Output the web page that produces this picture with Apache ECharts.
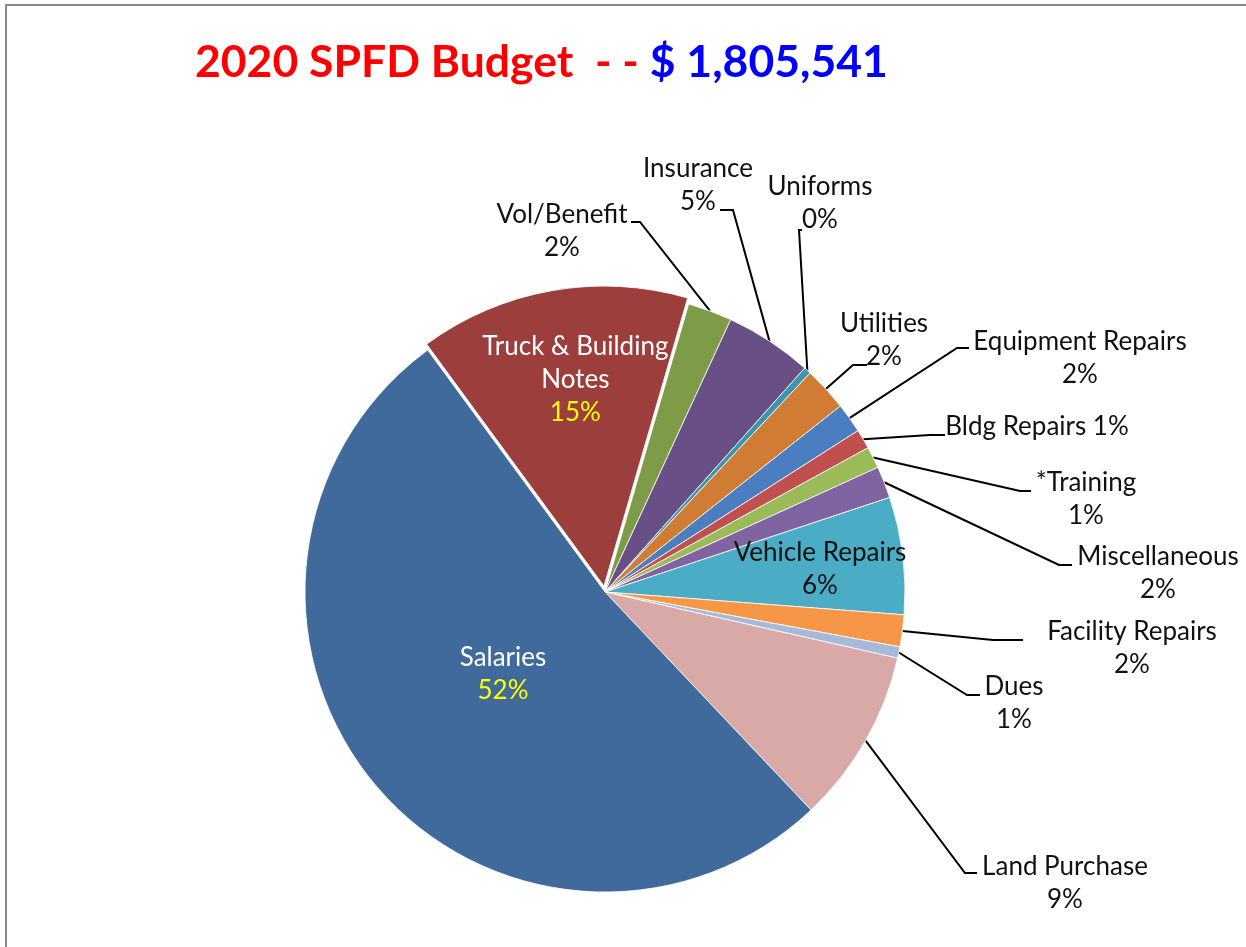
<!DOCTYPE html>
<html>
<head>
<meta charset="utf-8">
<script src="https://cdn.jsdelivr.net/npm/echarts@6/dist/echarts.min.js"></script>
<style>
  html, body { margin: 0; padding: 0; background: #fff; }
  .frame {
    position: absolute; left: 5px; top: 4px; width: 1300px; height: 1000px;
    border-left: 2px solid #8a8a8a; border-top: 2px solid #8a8a8a;
  }
  #chart { position: absolute; left: 0; top: 0; width: 1246px; height: 947px; }
</style>
</head>
<body>
<div class="frame"></div>
<div id="chart"></div>
<script>
// budget lines, clockwise from the Vol/Benefit slice
var categories = [
  "Vol/Benefit", "Insurance", "Uniforms", "Utilities", "Equipment Repairs",
  "Bldg Repairs", "*Training", "Miscellaneous", "Vehicle Repairs",
  "Facility Repairs", "Dues", "Land Purchase", "Salaries", "Truck & Building Notes"
];
var amounts = [
  43000, 85000, 7000, 43000, 29000,
  19000, 21000, 31000, 114000,
  31000, 11000, 170000, 938541, 263000
];

var colors = [
  "#7E9B48", "#684F86", "#3A95AD", "#D07C35", "#4A7EC1",
  "#C0504D", "#9BBB59", "#8064A2", "#4BACC6",
  "#F79646", "#A7B9D9", "#D9A9A8", "#3F6A9B", "#9B3E3C"
];

// label centre x, y; leader attach offset dx, dy; stub length
var labelSpots = {
  "Vol/Benefit": [562, 231, 69, -9, 9],
  "Insurance": [698, 185, 22, 25, 13],
  "Uniforms": [820, 203, -18, 27, 3],
  "Utilities": [884, 340, -17, 25, 14],
  "Equipment Repairs": [1080, 358, -111, -10, 12],
  "Bldg Repairs": [1037, 427, -92, 8, 15],
  "*Training": [1086, 499, -55, -8, 11],
  "Miscellaneous": [1158, 573, -86, -8, 13],
  "Facility Repairs": [1132, 648, -109, -8, 30],
  "Dues": [1014, 703, -34, -8, 13],
  "Land Purchase": [1065, 883, -88, -10, 12],
  "Salaries": [503, 674],
  "Vehicle Repairs": [820, 569]
};
var insideWhite = ["Salaries", "Truck & Building Notes"];
var insideDark = ["Vehicle Repairs"];
var oneLine = ["Bldg Repairs"];
var exploded = "Truck & Building Notes";

var total = amounts.reduce(function (a, b) { return a + b; }, 0);

var pieData = categories.map(function (name, i) {
  var item = { name: name, value: amounts[i], itemStyle: { color: colors[i] } };
  if (insideWhite.indexOf(name) >= 0 || insideDark.indexOf(name) >= 0) {
    item.label = { position: "inside" };
    item.labelLine = { show: false };
  }
  if (name === exploded) {
    item.selected = true;
    // exploded slice keeps its own inside label spot, lift it toward the rim
    item.label.padding = [0, 4, 112, 0];
  }
  return item;
});

var myChart = echarts.init(document.getElementById("chart"));
myChart.setOption({
  animation: false,
  title: {
    text: "{r|2020 SPFD Budget  - - }{b|$ " + total.toLocaleString("en-US") + "}",
    left: 190,
    top: 33,
    textStyle: {
      rich: {
        r: { color: "#FF0000", fontFamily: "Lato", fontWeight: "bold", fontSize: 44.5, lineHeight: 50 },
        b: { color: "#0000FF", fontFamily: "Lato", fontWeight: "bold", fontSize: 44.5, lineHeight: 50 }
      }
    }
  },
  series: [
    {
      type: "pie",
      center: [605, 592],
      radius: 300,
      startAngle: 73.8,
      clockwise: true,
      avoidLabelOverlap: false,
      selectedMode: "multiple",
      selectedOffset: 6,
      itemStyle: { borderColor: "#fff", borderWidth: 0.8 },
      emphasis: { disabled: true },
      label: {
        show: true,
        position: "outside",
        fontFamily: "Lato",
        fontSize: 26,
        lineHeight: 33,
        color: "#111",
        formatter: function (p) {
          var pct = Math.round(p.percent) + "%";
          if (insideWhite.indexOf(p.name) >= 0) {
            var n = p.name.replace(" Notes", "\nNotes").split("\n");
            return n.map(function (s) { return "{w|" + s + "}"; }).join("\n") + "\n{y|" + pct + "}";
          }
          if (oneLine.indexOf(p.name) >= 0) return p.name + " " + pct;
          return p.name + "\n" + pct;
        },
        rich: {
          w: { color: "#fff", fontFamily: "Lato", fontSize: 26, lineHeight: 33 },
          y: { color: "#FFFF00", fontFamily: "Lato", fontSize: 26, lineHeight: 33 }
        }
      },
      labelLine: {
        show: true,
        length: 10,
        length2: 10,
        lineStyle: { color: "#000", width: 2 }
      },
      labelLayout: function (params) {
        var spot = labelSpots[categories[params.dataIndex]];
        if (!spot) return {};
        var out = { x: spot[0], y: spot[1], align: "center", verticalAlign: "middle" };
        if (spot.length > 2 && params.labelLinePoints) {
          var a = params.labelLinePoints[0];
          var end = [spot[0] + spot[2], spot[1] + spot[3]];
          var dir = spot[2] > 0 ? 1 : -1;
          var elbow = [end[0] + dir * spot[4], end[1]];
          out.labelLinePoints = [a, elbow, end];
        }
        return out;
      },
      data: pieData
    }
  ]
});
</script>
</body>
</html>
